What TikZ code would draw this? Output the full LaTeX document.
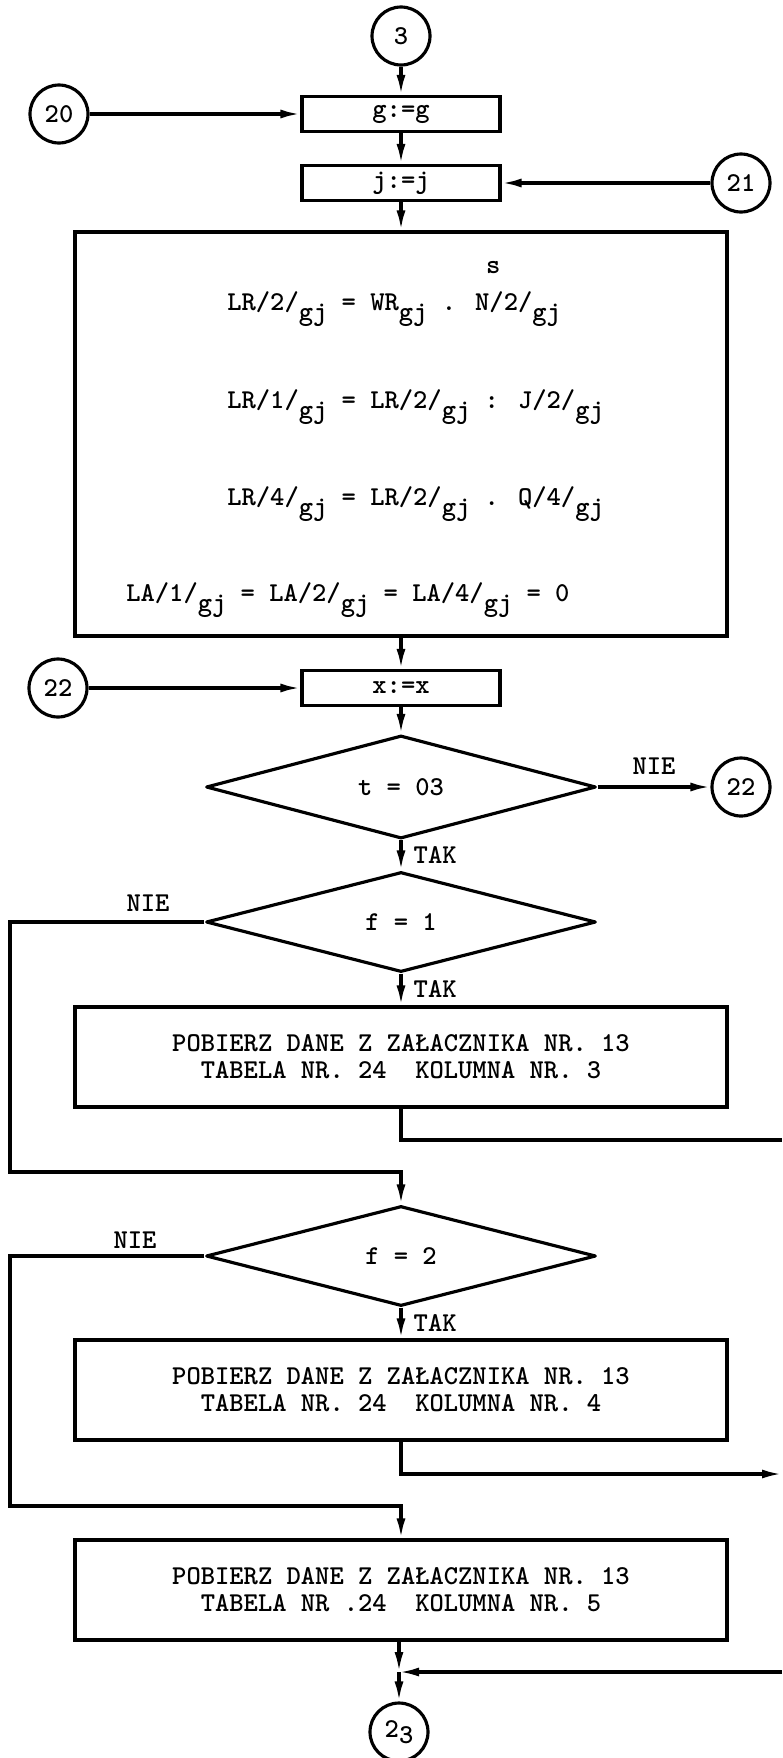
\documentclass[tikz,border=0pt]{standalone}
\usepackage{amsmath,amssymb}
\usetikzlibrary{shapes.geometric,arrows.meta}
\newcommand{\dn}[1]{\raisebox{-.4em}{#1}}

\begin{document}
\begin{tikzpicture}[x=.02cm,y=-.02cm,
  every node/.style={font=\fontsize{15.5}{15.5}\selectfont\ttfamily\bfseries},
  ln/.style={line width=1.8pt},
  arr/.style={ln,-{Latex[length=.4cm,width=.18cm]}},
  op/.style={draw,ln,minimum width=3.96cm,minimum height=.7cm,inner sep=0pt},
  wide/.style={draw,ln,minimum width=13.04cm,minimum height=2cm,align=center,inner sep=0pt},
  test/.style={diamond,draw,ln,line join=round,minimum width=7.8cm,minimum height=2cm,inner sep=0pt},
  conn/.style={circle,draw,ln,minimum size=1.16cm,inner sep=0pt}]
\useasboundingbox (0,0) rectangle (782,1758);
\node[conn] (c3) at (401,36) {3};
\node[op] (g) at (401,114) {g:=g};
\node[conn] (c20) at (59,114) {20};
\node[op] (j) at (401,183) {j:=j};
\node[conn] (c21) at (741,183) {21};
\node[draw,ln,minimum width=13.04cm,minimum height=8.08cm,inner sep=0pt] (calc) at (401,434) {};
\node[anchor=base west,inner sep=0pt] (eq1) at (227,310) {LR/2/\dn{gj} = WR\dn{gj} . \makebox[0pt][l]{\hspace{.4em}\raisebox{1.35em}{s}}N/2/\dn{gj}};
\node[anchor=base west,inner sep=0pt] (eq2) at (227,408) {LR/1/\dn{gj} = LR/2/\dn{gj} : J/2/\dn{gj}};
\node[anchor=base west,inner sep=0pt] (eq3) at (227,505) {LR/4/\dn{gj} = LR/2/\dn{gj} . Q/4/\dn{gj}};
\node[anchor=base west,inner sep=0pt] (eq4) at (126,601) {LA/1/\dn{gj} = LA/2/\dn{gj} = LA/4/\dn{gj} = 0};
\node[op] (xx) at (401,688) {x:=x};
\node[conn] (c22a) at (58,688) {22};
\node[test] (t) at (401,787) {t = 03};
\node[conn] (c22b) at (741,787) {22};
\node[test] (f1) at (401,922) {f = 1};
\node[wide] (b1) at (401,1057) {POBIERZ DANE Z ZAŁACZNIKA NR. 13\\TABELA NR. 24\ \ KOLUMNA NR. 3};
\node[test] (f2) at (401,1256) {f = 2};
\node[wide] (b2) at (401,1390) {POBIERZ DANE Z ZAŁACZNIKA NR. 13\\TABELA NR. 24\ \ KOLUMNA NR. 4};
\node[wide] (b3) at (401,1590) {POBIERZ DANE Z ZAŁACZNIKA NR. 13\\TABELA NR .24\ \ KOLUMNA NR. 5};
\node[conn] (c23) at (399,1732) {2\raisebox{-.2em}{3}};
\coordinate (lp1) at (10,1172);
\coordinate (lp2) at (10,1506);
\coordinate (o1) at (782,1140);
\coordinate (o2) at (782,1474);
\coordinate (o3) at (782,1672);
\coordinate (jn) at (399,1672);
\draw[arr] (c3) -- (g);
\draw[arr] (c20) -- (g);
\draw[arr] (g) -- (j);
\draw[arr] (c21) -- (j);
\draw[arr] (j) -- (calc);
\draw[arr] (calc) -- (xx);
\draw[arr] (c22a) -- (xx);
\draw[arr] (xx) -- (t);
\draw[arr] (t) -- node[above=3pt] {NIE} (c22b);
\draw[arr] (t) -- node[right=3pt] {TAK} (f1);
\draw[arr] (f1) -- node[right=3pt] {TAK} (b1);
\draw[arr] (f1.west) -| (lp1) -| (f2.north);
\node (nie1) at (148,903) {NIE};
\draw[ln] (b1.south) |- (o1);
\draw[arr] (f2) -- node[right=3pt] {TAK} (b2);
\draw[arr] (f2.west) -| (lp2) -| (b3.north);
\node (nie2) at (135,1240) {NIE};
\draw[arr] (b2.south) |- (o2);
\draw[arr] (b3.south -| jn) -- (jn);
\draw[arr] (o3) -- (jn);
\draw[arr] (jn) -- (c23);
\end{tikzpicture}
\end{document}
